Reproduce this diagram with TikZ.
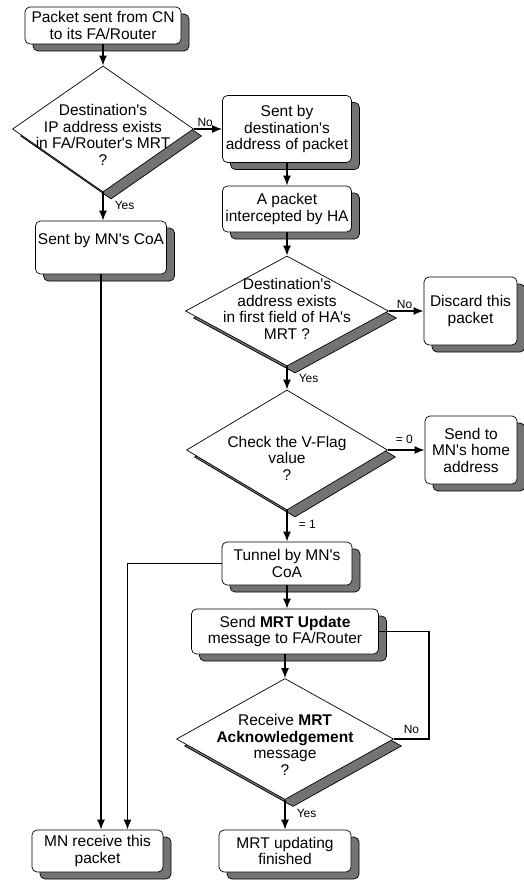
\documentclass[tikz,border=0pt]{standalone}
\usepackage{fontspec}
\setmainfont{Liberation Sans}[Ligatures=TeXOff]
\usetikzlibrary{shapes.geometric,arrows.meta,shadows}

\begin{document}
\begin{tikzpicture}[x=1pt,y=-1pt,
  font=\fontsize{15.5}{16.5}\selectfont,
  boxshadow/.style={drop shadow={shadow xshift=8pt,shadow yshift=-7pt,fill=black!55,draw=black,opacity=1}},
  box/.style={draw,line width=0.7pt,rounded corners=5pt,fill=white,align=center,inner sep=2pt,boxshadow},
  decision/.style={diamond,draw,line width=0.7pt,fill=white,inner sep=0pt,boxshadow},
  qtext/.style={align=center,inner sep=0pt},
  conn/.style={line width=1.5pt},
  arr/.style={conn,-{Latex[length=10pt,width=8pt]}},
  edgetag/.style={font=\fontsize{12}{14}\selectfont,inner sep=2pt}]
  \useasboundingbox (0,0) rectangle (523,880);

  % left column
  \node[box,minimum width=156pt,minimum height=37pt] (start) at (103,25.5) {Packet sent from CN\\to its FA/Router};
  \node[decision,minimum width=181pt,minimum height=126pt,
    label={[qtext,yshift=-6pt]center:Destination's\\IP address exists\\in FA/Router's MRT\\?}] (fam) at (103,129) {};
  \node[box,minimum width=131pt,minimum height=53pt] (coa) at (101,247.5) {Sent by MN's CoA\\\mbox{}};
  \node[box,minimum width=131pt,minimum height=42pt] (recv) at (97.5,851) {MN receive this\\packet};

  % right column
  \node[box,minimum width=129pt,minimum height=67pt] (dst) at (287,129) {Sent by\\destination's\\address of packet};
  \node[box,minimum width=129pt,minimum height=46pt] (hai) at (287,209) {A packet\\intercepted by HA};
  \node[decision,minimum width=203pt,minimum height=110pt,
    label={[qtext,yshift=2pt]center:Destination's\\address exists\\in first field of HA's\\MRT ?}] (hama) at (287,311) {};
  \node[box,minimum width=93pt,minimum height=68pt] (disc) at (470.5,311) {Discard this\\packet};
  \node[decision,minimum width=201pt,minimum height=120pt,
    label={[qtext,yshift=-8pt]center:Check the V-Flag\\value\\?}] (vflag) at (287,450) {};
  \node[box,minimum width=92pt,minimum height=68pt] (home) at (471,450) {Send to\\MN's home\\address};
  \node[box,minimum width=130pt,minimum height=43pt] (tun) at (287,563.5) {Tunnel by MN's\\CoA};
  \node[box,minimum width=187pt,minimum height=45pt] (upd) at (285,631.5) {Send \textbf{MRT Update}\\message to FA/Router};
  \node[decision,minimum width=217pt,minimum height=121pt,
    label={[qtext,yshift=-6pt]center:Receive \textbf{MRT}\\\textbf{Acknowledgement}\\message\\?}] (ack) at (285,739) {};
  \node[box,minimum width=132pt,minimum height=42pt] (fin) at (285,851) {MRT updating\\finished};

  % connectors
  \draw[arr] (start) -- (fam);
  \draw[arr] (fam.east) -- (dst.west) node[edgetag,above,pos=0.4] {No};
  \draw[arr] (fam.south) -- (fam.south |- coa.north) node[edgetag,right=9pt,pos=0.45] {Yes};
  \draw[arr] (coa.south) -- (coa.south |- recv.north);
  \draw[arr] (dst) -- (hai);
  \draw[arr] (hai) -- (hama);
  \draw[arr] (hama.east) -- (disc.west) node[edgetag,above,pos=0.45] {No};
  \draw[arr] (hama.south) -- (vflag.north) node[edgetag,right=9pt,midway] {Yes};
  \draw[arr] (vflag.east) -- (home.west) node[edgetag,above=4pt,pos=0.45] {= 0};
  \draw[arr] (vflag.south) -- (tun.north) node[edgetag,right=9pt,pos=0.45] {= 1};
  \draw[arr] (tun.west) -| ([xshift=30pt]recv.north);
  \draw[arr] (tun.south) -- (tun.south |- upd.north);
  \draw[arr] (upd) -- (ack);
  \draw[conn] (ack.east) -- ++(35,0) node[edgetag,above left=3pt,xshift=-4pt] {No} |- (upd.east);
  \draw[arr] (ack.south) -- (fin.north) node[edgetag,right=9pt,pos=0.45] {Yes};
\end{tikzpicture}
\end{document}
